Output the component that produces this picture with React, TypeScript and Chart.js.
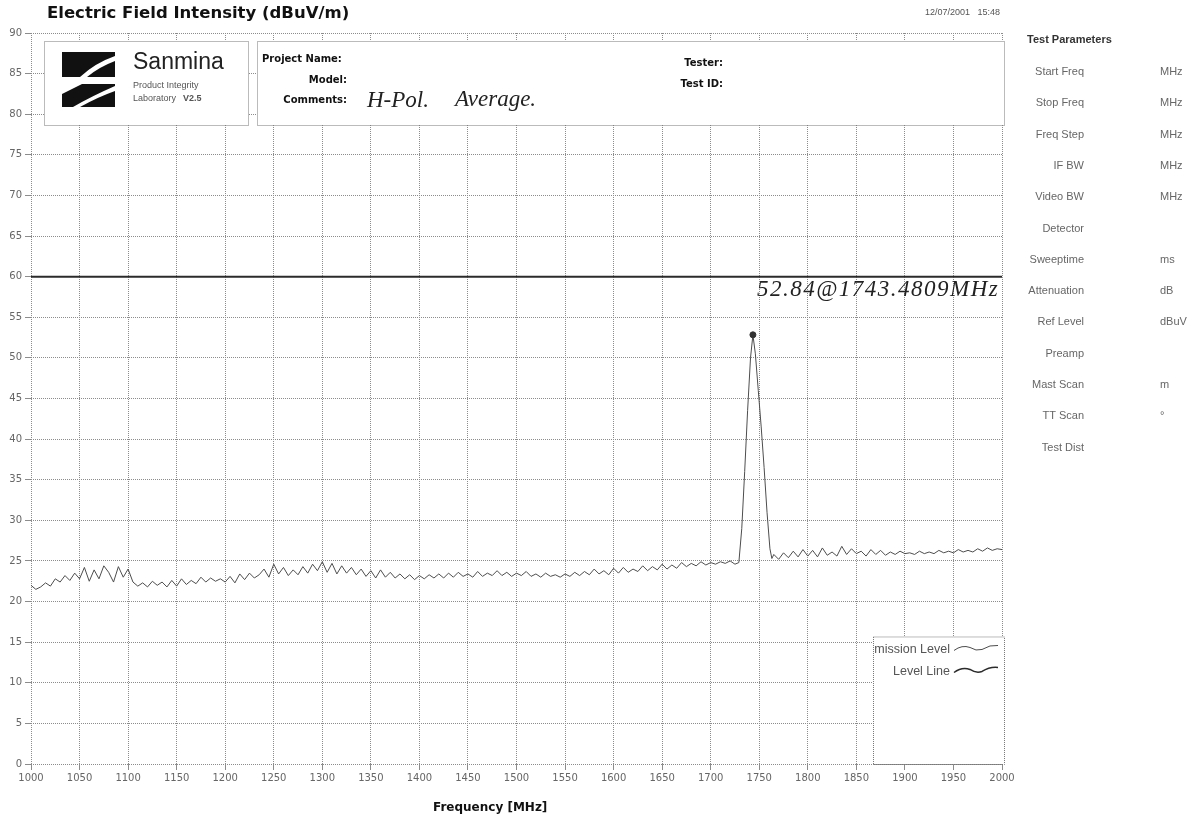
import React, { useEffect, useRef } from "react";
import { Chart, registerables } from "chart.js";

Chart.register(...registerables);

// ---------------- data ----------------
const FREQS = [
  1000, 1005, 1010, 1015, 1020, 1025, 1030, 1035, 1040, 1045,
  1050, 1055, 1060, 1065, 1070, 1075, 1080, 1085, 1090, 1095,
  1100, 1105, 1110, 1115, 1120, 1125, 1130, 1135, 1140, 1145,
  1150, 1155, 1160, 1165, 1170, 1175, 1180, 1185, 1190, 1195,
  1200, 1205, 1210, 1215, 1220, 1225, 1230, 1235, 1240, 1245,
  1250, 1255, 1260, 1265, 1270, 1275, 1280, 1285, 1290, 1295,
  1300, 1305, 1310, 1315, 1320, 1325, 1330, 1335, 1340, 1345,
  1350, 1355, 1360, 1365, 1370, 1375, 1380, 1385, 1390, 1395,
  1400, 1405, 1410, 1415, 1420, 1425, 1430, 1435, 1440, 1445,
  1450, 1455, 1460, 1465, 1470, 1475, 1480, 1485, 1490, 1495,
  1500, 1505, 1510, 1515, 1520, 1525, 1530, 1535, 1540, 1545,
  1550, 1555, 1560, 1565, 1570, 1575, 1580, 1585, 1590, 1595,
  1600, 1605, 1610, 1615, 1620, 1625, 1630, 1635, 1640, 1645,
  1650, 1655, 1660, 1665, 1670, 1675, 1680, 1685, 1690, 1695,
  1700, 1705, 1710, 1715, 1720, 1725,
  1729, 1732, 1735, 1738, 1741, 1743.4809, 1746, 1749, 1752, 1755,
  1758, 1761, 1763,
  1765, 1770, 1775, 1780, 1785, 1790, 1795, 1800, 1805, 1810,
  1815, 1820, 1825, 1830, 1835, 1840, 1845, 1850, 1855, 1860,
  1865, 1870, 1875, 1880, 1885, 1890, 1895, 1900, 1905, 1910,
  1915, 1920, 1925, 1930, 1935, 1940, 1945, 1950, 1955, 1960,
  1965, 1970, 1975, 1980, 1985, 1990, 1995, 2000,
];

const LEVELS = [
  22.0, 21.5, 21.8, 22.3, 21.9, 22.8, 22.4, 23.2, 22.6, 23.5,
  22.8, 24.2, 22.5, 23.9, 22.8, 24.4, 23.6, 22.4, 24.3, 23.0,
  24.0, 22.4, 21.9, 22.3, 21.8, 22.5, 22.0, 22.4, 21.8, 22.6,
  21.9, 22.8, 22.1, 22.6, 22.2, 23.0, 22.4, 22.9, 22.5, 22.8,
  22.4, 23.1, 22.3, 23.4, 22.7, 23.5, 22.9, 23.3, 24.0, 23.0,
  24.6, 23.4, 24.2, 23.2, 23.9, 23.3, 24.3, 23.5, 24.6, 23.8,
  24.9, 23.6, 24.7, 23.4, 24.4, 23.5, 24.2, 23.3, 24.0, 23.1,
  23.8, 22.9, 23.9, 23.0, 23.6, 22.9, 23.4, 22.8, 23.3, 22.7,
  23.2, 22.8, 23.3, 22.9, 23.4, 22.9, 23.5, 23.0, 23.6, 23.1,
  23.4, 23.0, 23.7, 23.1, 23.5, 23.2, 23.8, 23.2, 23.6, 23.1,
  23.5, 23.2, 23.7, 23.1, 23.4, 23.0, 23.5, 23.1, 23.3, 23.0,
  23.4, 23.1, 23.6, 23.2, 23.7, 23.3, 24.0, 23.4, 23.8, 23.3,
  24.1, 23.5, 24.2, 23.6, 24.0, 23.7, 24.4, 23.8, 24.3, 23.9,
  24.6, 24.0, 24.5, 24.1, 24.8, 24.3, 24.7, 24.4, 24.9, 24.5,
  24.8, 24.6, 24.9, 24.7, 25.0, 24.6,
  24.8, 29.0, 36.0, 43.5, 50.0, 52.84, 50.5, 46.0, 41.5, 36.5,
  31.0, 26.5, 25.3,
  25.8, 25.2, 26.0, 25.4, 26.2, 25.5, 26.4, 25.6, 26.3, 25.5,
  26.6, 25.7, 26.1, 25.6, 26.8, 25.8, 26.5, 25.9, 26.2, 25.6,
  26.4, 25.8, 26.3, 25.7, 26.1, 25.8, 26.2, 25.9, 26.0, 25.8,
  26.2, 25.9, 26.1, 25.9, 26.3, 26.0, 26.2, 26.0, 26.4, 26.1,
  26.3, 26.1, 26.5, 26.2, 26.6, 26.3, 26.5, 26.4,
];

const LIMIT_FREQS = [1000, 2000];
const LIMIT_LEVELS = [60, 60];

const PEAK_FREQ = 1743.4809;
const PEAK_INDEX = FREQS.indexOf(PEAK_FREQ);

const SERIES_LABELS = ["Emission Level", "Level Line"];

const TITLE = "Electric Field Intensity (dBuV/m)";
const X_TITLE = "Frequency [MHz]";
const TIMESTAMP = "12/07/2001   15:48";
const PEAK_NOTE = "52.84@1743.4809MHz";
const COMMENT_WORDS = ["H-Pol.", "Average."];

const PARAM_TITLE = "Test Parameters";
const PARAM_LABELS = [
  "Start Freq", "Stop Freq", "Freq Step", "IF BW", "Video BW", "Detector",
  "Sweeptime", "Attenuation", "Ref Level", "Preamp", "Mast Scan", "TT Scan", "Test Dist",
];
const PARAM_UNITS = ["MHz", "MHz", "MHz", "MHz", "MHz", "", "ms", "dB", "dBuV", "", "m", "°", ""];

const HEADER_LEFT = ["Project Name:", "Model:", "Comments:"];
const HEADER_RIGHT = ["Tester:", "Test ID:"];

// ---------------- drawing helpers ----------------
function dottedBox(ctx: CanvasRenderingContext2D, x: number, y: number, w: number, h: number) {
  ctx.save();
  ctx.fillStyle = "#ffffff";
  ctx.fillRect(x, y, w, h);
  ctx.strokeStyle = "#777";
  ctx.lineWidth = 1;
  ctx.setLineDash([1, 1]);
  ctx.strokeRect(x + 0.5, y + 0.5, w, h);
  ctx.restore();
}

function drawLogo(ctx: CanvasRenderingContext2D) {
  ctx.save();
  ctx.fillStyle = "#111";
  // upper block
  ctx.beginPath();
  ctx.moveTo(62, 52);
  ctx.lineTo(115, 52);
  ctx.lineTo(115, 56);
  ctx.quadraticCurveTo(95, 63, 80, 77);
  ctx.lineTo(62, 77);
  ctx.closePath();
  ctx.fill();
  ctx.beginPath();
  ctx.moveTo(115, 61);
  ctx.lineTo(115, 77);
  ctx.lineTo(87, 77);
  ctx.quadraticCurveTo(99, 67, 115, 61);
  ctx.closePath();
  ctx.fill();
  // lower block
  ctx.beginPath();
  ctx.moveTo(82, 84);
  ctx.lineTo(115, 84);
  ctx.lineTo(115, 86);
  ctx.quadraticCurveTo(92, 96, 73, 107);
  ctx.lineTo(62, 107);
  ctx.lineTo(62, 94);
  ctx.closePath();
  ctx.fill();
  ctx.beginPath();
  ctx.moveTo(115, 91);
  ctx.lineTo(115, 107);
  ctx.lineTo(80, 107);
  ctx.quadraticCurveTo(98, 97, 115, 91);
  ctx.closePath();
  ctx.fill();
  ctx.restore();
}

function drawWave(ctx: CanvasRenderingContext2D, x0: number, y0: number, color: string, width: number) {
  ctx.save();
  ctx.strokeStyle = color;
  ctx.lineWidth = width;
  ctx.beginPath();
  ctx.moveTo(x0, y0 + 2);
  ctx.quadraticCurveTo(x0 + 8, y0 - 4, x0 + 16, y0 - 1);
  ctx.quadraticCurveTo(x0 + 22, y0 + 3, x0 + 28, y0 + 1);
  ctx.quadraticCurveTo(x0 + 36, y0 - 4, x0 + 44, y0 - 3);
  ctx.stroke();
  ctx.restore();
}

const decorPlugin = {
  id: "decor",
  afterDraw(chart: any) {
    const ctx: CanvasRenderingContext2D = chart.ctx;
    const xs = chart.scales.x;
    const ys = chart.scales.y;
    ctx.save();

    // main title
    ctx.fillStyle = "#111";
    ctx.font = 'bold 16.5px "DejaVu Sans"';
    ctx.textAlign = "left";
    ctx.textBaseline = "middle";
    ctx.fillText(TITLE, 47, 14);

    // timestamp
    ctx.font = '9px "Liberation Sans"';
    ctx.fillStyle = "#555";
    ctx.textAlign = "right";
    ctx.fillText(TIMESTAMP, 1000, 13);

    // x-axis title
    ctx.font = 'bold 12px "DejaVu Sans"';
    ctx.fillStyle = "#111";
    ctx.textAlign = "left";
    ctx.fillText(X_TITLE, 433, 808);

    // logo box
    dottedBox(ctx, 44, 41, 204, 84);
    drawLogo(ctx);
    ctx.fillStyle = "#222";
    ctx.textAlign = "left";
    ctx.font = '23px "Liberation Sans"';
    ctx.fillText("Sanmina", 133, 63);
    ctx.fillStyle = "#555";
    ctx.font = '9px "Liberation Sans"';
    ctx.fillText("Product Integrity", 133, 86);
    ctx.fillText("Laboratory", 133, 99);
    ctx.font = 'bold 9px "Liberation Sans"';
    ctx.fillText("V2.5", 183, 99);

    // project box
    dottedBox(ctx, 257, 41, 747, 84);
    ctx.fillStyle = "#111";
    ctx.font = 'bold 10px "DejaVu Sans"';
    ctx.textAlign = "left";
    ctx.fillText(HEADER_LEFT[0], 262, 59);
    ctx.textAlign = "right";
    ctx.fillText(HEADER_LEFT[1], 347, 80);
    ctx.fillText(HEADER_LEFT[2], 347, 100);
    ctx.fillText(HEADER_RIGHT[0], 723, 63);
    ctx.fillText(HEADER_RIGHT[1], 723, 84);

    // handwritten comments
    ctx.fillStyle = "#222";
    ctx.textAlign = "left";
    ctx.textBaseline = "alphabetic";
    ctx.font = 'italic 23px "Liberation Serif"';
    ctx.fillText(COMMENT_WORDS[0], 367, 107);
    ctx.fillText(COMMENT_WORDS[1], 455, 106);

    // peak annotation
    (ctx as any).letterSpacing = "1.5px";
    ctx.font = 'italic 23px "Liberation Serif"';
    ctx.fillText(PEAK_NOTE, xs.getPixelForValue(PEAK_FREQ) + 4, ys.getPixelForValue(57.6));
    (ctx as any).letterSpacing = "0px";

    // test parameters panel
    ctx.textBaseline = "middle";
    ctx.fillStyle = "#333";
    ctx.font = 'bold 11px "Liberation Sans"';
    ctx.textAlign = "left";
    ctx.fillText(PARAM_TITLE, 1027, 40);
    ctx.font = '11px "Liberation Sans"';
    ctx.fillStyle = "#666";
    PARAM_LABELS.forEach((lab, i) => {
      const yy = 72 + i * 31.3;
      ctx.textAlign = "right";
      ctx.fillText(lab, 1084, yy);
      ctx.textAlign = "left";
      if (PARAM_UNITS[i]) ctx.fillText(PARAM_UNITS[i], 1160, yy);
    });

    // legend box inside plot
    const lx = 873, ly = ys.getPixelForValue(15.7), lw = 131;
    const lh = ys.getPixelForValue(0) - ly;
    dottedBox(ctx, lx, ly, lw, lh);
    ctx.save();
    ctx.beginPath();
    ctx.rect(lx + 1, ly + 1, lw - 1, lh - 1);
    ctx.clip();
    ctx.font = '12.5px "Liberation Sans"';
    ctx.fillStyle = "#555";
    ctx.textAlign = "right";
    chart.data.datasets.forEach((ds: any, i: number) => {
      const yy = ly + 13 + i * 22;
      ctx.fillText(ds.label, 950, yy);
      drawWave(ctx, 954, yy - 1, ds.borderColor, i === 1 ? 1.5 : 1);
    });
    ctx.restore();

    ctx.restore();
  },
};

export default function App() {
  const ref = useRef<HTMLCanvasElement>(null);

  useEffect(() => {
    document.body.style.margin = "0";
    const canvas = ref.current;
    if (!canvas) return;

    const tickFont = { family: '"DejaVu Sans"', size: 10 };
    const gridCommon = {
      color: "#8c8c8c",
      lineWidth: 1,
      tickLength: 6,
      tickColor: "#8c8c8c",
      tickWidth: 1,
      drawOnChartArea: true,
    };

    const chart = new Chart(canvas, {
      type: "line",
      data: {
        datasets: [
          {
            label: SERIES_LABELS[0],
            data: FREQS.map((f, i) => ({ x: f, y: LEVELS[i] })),
            borderColor: "#4d4d4d",
            borderWidth: 1,
            pointRadius: (c: any) => (c.dataIndex === PEAK_INDEX ? 3 : 0),
            pointBackgroundColor: "#333",
            pointBorderColor: "#333",
            tension: 0,
          },
          {
            label: SERIES_LABELS[1],
            data: LIMIT_FREQS.map((f, i) => ({ x: f, y: LIMIT_LEVELS[i] })),
            borderColor: "#2b2b2b",
            borderWidth: 2,
            pointRadius: 0,
            tension: 0,
          },
        ],
      },
      options: {
        responsive: false,
        animation: false,
        events: [],
        layout: { padding: { left: 0, right: 186, top: 33, bottom: 0 } },
        plugins: { legend: { display: false }, tooltip: { enabled: false } },
        scales: {
          x: {
            type: "linear",
            min: 1000,
            max: 2000,
            ticks: {
              stepSize: 50,
              autoSkip: false,
              maxRotation: 0,
              color: "#666",
              font: tickFont,
              padding: 2,
              callback: (v: any) => String(v),
            },
            grid: gridCommon,
            border: { display: false, dash: [1, 1] },
            afterFit: (s: any) => {
              s.height = 58;
            },
          },
          y: {
            type: "linear",
            min: 0,
            max: 90,
            ticks: {
              stepSize: 5,
              color: "#666",
              font: tickFont,
              padding: 3,
              callback: (v: any) => String(v),
            },
            grid: gridCommon,
            border: { display: false, dash: [1, 1] },
            afterFit: (s: any) => {
              s.width = 31;
            },
          },
        },
      },
      plugins: [decorPlugin],
    } as any);

    return () => chart.destroy();
  }, []);

  return <canvas ref={ref} width={1188} height={822} style={{ display: "block" }} />;
}
